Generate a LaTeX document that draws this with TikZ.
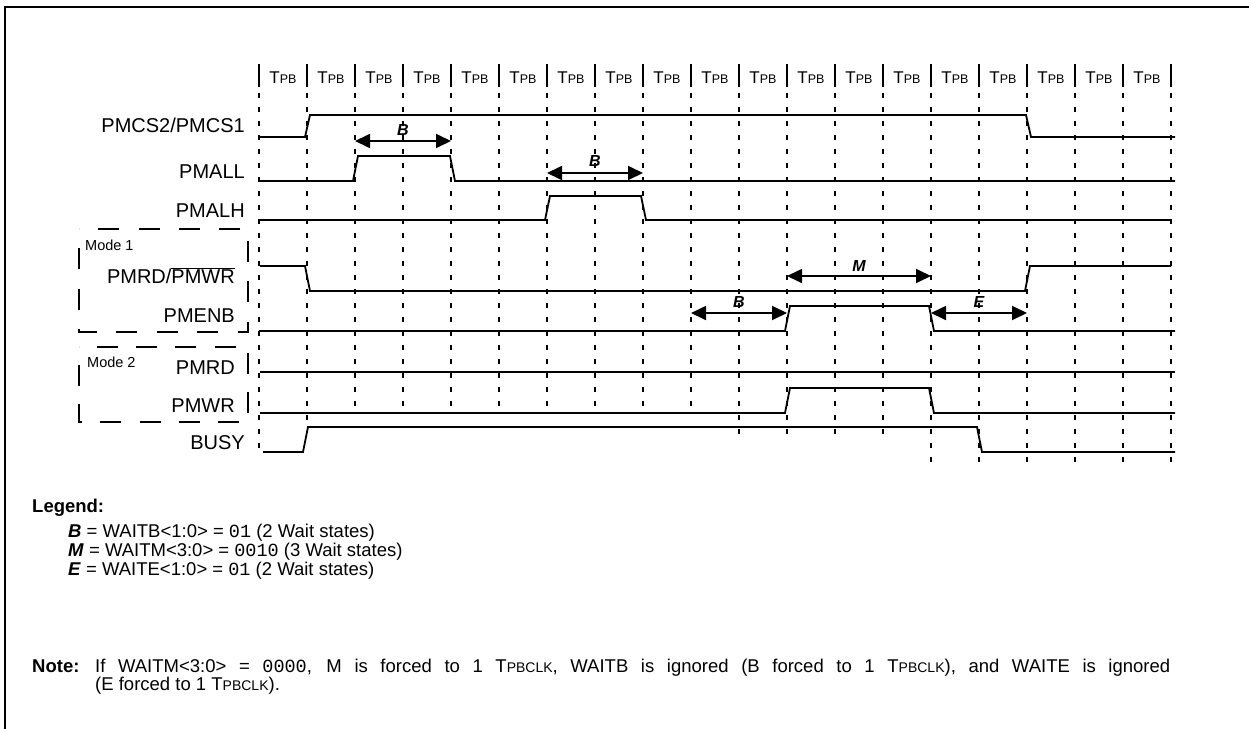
\documentclass[tikz,border=0pt]{standalone}
\usepackage{fontspec}
\setmainfont{Liberation Sans}
\setmonofont{Liberation Mono}
\usepackage{tikz}
\usetikzlibrary{arrows.meta,calc,decorations}

\newcommand{\Tpb}{T{\fontsize{12.5}{12.5}\selectfont PB}}
\newcommand{\Tpbclk}{T{\fontsize{14}{14}\selectfont PBCLK}}

\begin{document}
\begin{tikzpicture}[x=1pt, y=-1pt, >={Triangle[length=15pt,width=14pt]}, font=\fontsize{20}{24}\selectfont]
  % Define styles
  \tikzstyle{wave}=[line width=1.8pt, line join=miter]
  \tikzstyle{tickline}=[line width=1.6pt, dash pattern=on 5pt off 9pt]
  \tikzstyle{sepline}=[line width=1.8pt]
  \tikzstyle{modebox}=[line width=1.8pt, dash pattern=on 21pt off 17pt, dash expand off]
  \tikzstyle{waitarrow}=[<->, line width=1.8pt]
  \tikzstyle{sig}=[anchor=base east, inner sep=0pt]
  \tikzstyle{hdr}=[anchor=base, inner sep=0pt, font=\fontsize{17}{20}\selectfont]
  \tikzstyle{waitlab}=[anchor=base, inner sep=0pt, font=\fontsize{16}{18}\selectfont\bfseries\itshape]
  \tikzstyle{modelab}=[anchor=base west, inner sep=0pt, font=\fontsize{14.5}{16}\selectfont]
  \tikzstyle{legtext}=[anchor=base west, inner sep=0pt, font=\fontsize{18.5}{19}\selectfont]

  \useasboundingbox (0,0) rectangle (1249,728);
  \draw[line width=2.3pt] (5,740) -- (5,7) -- (1260,7);

  % Clock grid
  \foreach \i in {0,...,19}
    \coordinate (g\i) at ({259+48*\i},0);
  \foreach \i in {0,...,19}
    \draw[sepline] (g\i |- 0,64) -- (g\i |- 0,87);
  \foreach \i in {0,...,18}
    \node[hdr] (t\i) at ({283+48*\i},83) {\Tpb};
  \foreach \i/\e in {0/455,1/427,2/412,3/412,4/412,5/412,6/412,7/412,8/412,9/412,
                     10/440,11/440,12/440,13/440,14/465,15/465,16/465,17/465,18/465,19/465}
    \draw[tickline] (g\i |- 0,93) -- (g\i |- 0,\e);

  % Signal names
  \node[sig] (cs)    at (245,132) {PMCS2/PMCS1};
  \node[sig] (all)   at (245,178) {PMALL};
  \node[sig] (alh)   at (245,217) {PMALH};
  \node[sig] (rdwr)  at (235,283) {PMRD/$\overline{\mbox{PMWR}}$};
  \node[sig] (enb)   at (235,322) {PMENB};
  \node[sig] (rd)    at (235,374) {PMRD};
  \node[sig] (wr)    at (235,412) {PMWR};
  \node[sig] (busy)  at (245,449) {BUSY};

  % Mode boxes
  \draw[modebox] (79,229) rectangle (248,332);
  \node[modelab] (m1) at (85,250) {Mode 1};
  \draw[modebox] (79,347) rectangle (248,422);
  \node[modelab] (m2) at (87,367) {Mode 2};

  % Waveforms
  \draw[wave] (260,137) -- (305,137) -- (310,115) -- (1026,115) -- (1031,137) -- (1175,137);
  \draw[wave] (259,181) -- (353,181) -- (358,156) -- (450,156) -- (455,181) -- (1175,181);
  \draw[wave] (259,220) -- (545,220) -- (550,196) -- (641,196) -- (646,220) -- (1171,220);
  \draw[wave] (260,266) -- (305,266) -- (310,291) -- (1025,291) -- (1030,266) -- (1171,266);
  \draw[wave] (259,331) -- (785,331) -- (790,306) -- (929,306) -- (934,331) -- (1175,331);
  \draw[wave] (260,372) -- (1175,372);
  \draw[wave] (260,413) -- (785,413) -- (790,388) -- (929,388) -- (934,413) -- (1175,413);
  \draw[wave] (263,452) -- (303,452) -- (308,427) -- (977,427) -- (982,452) -- (1175,452);

  % Wait arrows
  \draw[waitarrow] (g2 |- 0,141) -- (g4 |- 0,141);
  \node[waitlab] (b1) at (403,135) {B};
  \draw[waitarrow] (g6 |- 0,173) -- (g8 |- 0,173);
  \node[waitlab] (b2) at (595,166) {B};
  \draw[waitarrow] (g11 |- 0,276) -- (g14 |- 0,276);
  \node[waitlab] (m) at (859,271) {M};
  \draw[waitarrow] (g9 |- 0,313) -- (g11 |- 0,313);
  \node[waitlab] (b3) at (739,307) {B};
  \draw[waitarrow] (g14 |- 0,313) -- (g16 |- 0,313);
  \node[waitlab] (e) at (979,307) {E};

  % Legend and note
  \node[legtext, font=\fontsize{18.5}{19}\selectfont\bfseries] (leg) at (32,512) {Legend:};
  \node[legtext] (legb) at (68,537) {\textbf{\textit{B}} = WAITB<1:0> = \texttt{01} (2 Wait states)};
  \node[legtext] (legm) at (68,556) {\textbf{\textit{M}} = WAITM<3:0> = \texttt{0010} (3 Wait states)};
  \node[legtext] (lege) at (68,575) {\textbf{\textit{E}} = WAITE<1:0> = \texttt{01} (2 Wait states)};
  \node[legtext, font=\fontsize{18.5}{19}\selectfont\bfseries] (note) at (32,672) {Note:};
  \node[legtext] (note1) at (95,672) {\makebox[1075pt][s]{If WAITM<3:0> = \texttt{0000}, M is forced to 1 \Tpbclk, WAITB is ignored (B forced to 1 \Tpbclk), and WAITE is ignored}};
  \node[legtext] (note2) at (95,690) {(E forced to 1 \Tpbclk).};
\end{tikzpicture}
\end{document}
